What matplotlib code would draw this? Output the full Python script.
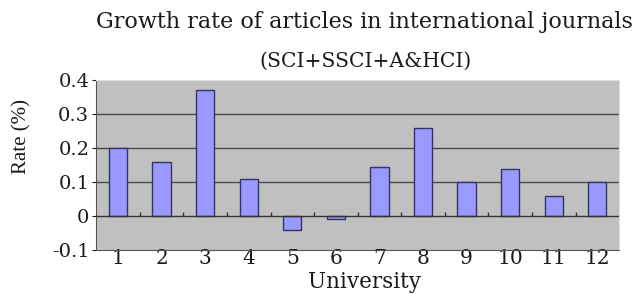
import matplotlib
matplotlib.use("Agg")
import matplotlib.pyplot as plt
import numpy as np

universities = ["1", "2", "3", "4", "5", "6", "7", "8", "9", "10", "11", "12"]
growth_rate = [0.20, 0.16, 0.37, 0.11, -0.04, -0.01, 0.145, 0.26, 0.10, 0.137, 0.06, 0.10]
y_ticks = [-0.1, 0, 0.1, 0.2, 0.3, 0.4]
y_tick_labels = ["-0.1", "0", "0.1", "0.2", "0.3", "0.4"]

plt.rcParams['font.family'] = ['DejaVu Serif']

fig = plt.figure(figsize=(6.33, 2.94), dpi=100)
fig.patch.set_facecolor('white')
ax = fig.add_axes([0.152, 0.150, 0.826, 0.578])
ax.set_facecolor('#C0C0C0')

x = np.arange(len(universities))
ax.bar(x, growth_rate, width=0.42, color='#9999FF', edgecolor='#333366', linewidth=1.0, zorder=3)

for v in [0.1, 0.2, 0.3]:
    ax.axhline(v, color='#4a4a4a', linewidth=1.0, zorder=1)
ax.axhline(0, color='#333333', linewidth=1.0, zorder=4)
bounds = np.arange(len(universities) + 1) - 0.5
ax.vlines(bounds[1:-1], 0, 0.012, color='#333333', linewidth=1.0, zorder=4)

ax.set_xlim(-0.5, len(universities) - 0.5)
ax.set_ylim(-0.1, 0.4)
ax.set_yticks(y_ticks)
ax.set_yticklabels(y_tick_labels)
ax.set_xticks(x)
ax.set_xticklabels(universities)
ax.tick_params(axis='x', length=0, pad=-1, labelsize=14.5, colors='#1a1a1a')
ax.tick_params(axis='y', length=3, pad=2, labelsize=14, colors='#1a1a1a')

for s in ['top', 'right']:
    ax.spines[s].set_color('#e0e0e0')
for s in ['left', 'bottom']:
    ax.spines[s].set_color('#555555')

fig.text(0.035, 0.537, "Rate (%)", fontsize=15, family='Liberation Serif', rotation=90,
         ha='center', va='center', color='#1a1a1a')
fig.text(0.576, 0.040, "University", fontsize=15.5, ha='center', va='center', color='#1a1a1a')
fig.text(0.576, 0.925, "Growth rate of articles in international journals", fontsize=16,
         ha='center', va='center', color='#1a1a1a')
fig.text(0.577, 0.793, "(SCI+SSCI+A&HCI)", fontsize=14.6, ha='center', va='center', color='#1a1a1a')

fig.savefig("out.png", dpi=100)
